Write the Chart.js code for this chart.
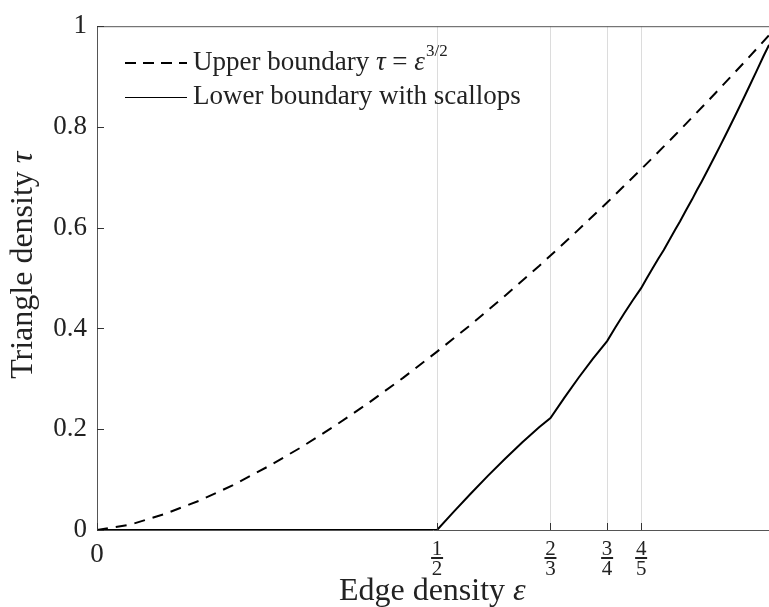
<!DOCTYPE html>
<html>
<head>
<meta charset="utf-8">
<script src="https://cdn.jsdelivr.net/npm/chart.js@4.4.0/dist/chart.umd.min.js"></script>
<style>
  html, body { margin: 0; padding: 0; background: #fff; }
  #wrap { width: 769px; height: 607px; }
</style>
</head>
<body>
<div id="wrap"><canvas id="densityChart" width="769" height="607"></canvas></div>
<script>
// upper boundary (dashed)
const upperX = [0, 0.05, 0.1, 0.15, 0.2, 0.25, 0.3, 0.35, 0.4, 0.45, 0.5, 0.55, 0.6, 0.65, 0.7, 0.75, 0.8, 0.85, 0.9, 0.95, 0.988];
const upperY = [0, 0.011, 0.032, 0.058, 0.089, 0.125, 0.164, 0.207, 0.253, 0.302, 0.354, 0.408, 0.465, 0.524, 0.586, 0.650, 0.716, 0.784, 0.854, 0.926, 0.982];

// lower boundary with scallops (solid)
const lowerX = [0, 0.5, 0.525, 0.55, 0.575, 0.6, 0.625, 0.65, 0.6667, 0.6875, 0.7083, 0.7292, 0.75, 0.7625, 0.775, 0.7875, 0.8, 0.8083, 0.8167, 0.825, 0.8333, 0.85, 0.8571, 0.866, 0.875, 0.8819, 0.8889, 0.9, 0.9091, 0.9167, 0.9231, 0.9286, 0.9333, 0.9375, 0.95, 0.96, 0.97, 0.98, 0.988];
const lowerY = [0, 0, 0.037, 0.073, 0.108, 0.1415, 0.1736, 0.2038, 0.2222, 0.2632, 0.3027, 0.3403, 0.375, 0.4028, 0.4297, 0.4556, 0.48, 0.4998, 0.5191, 0.5378, 0.5556, 0.596, 0.6122, 0.6346, 0.6563, 0.6742, 0.6914, 0.72, 0.7438, 0.7639, 0.7811, 0.7959, 0.8089, 0.8203, 0.855, 0.8832, 0.9118, 0.9408, 0.963];

// ticks
const xTickValues = [0, 1/2, 2/3, 3/4, 4/5];
const xTickLabels = [['0'], ['1', '2'], ['2', '3'], ['3', '4'], ['4', '5']];
const yTickValues = [0, 0.2, 0.4, 0.6, 0.8, 1];

const serif = '"Liberation Serif", "DejaVu Serif", serif';
const axisColor = '#555';

function pts(xs, ys) {
    return xs.map((x, i) => ({ x: x, y: ys[i] }));
}

// draws the things Chart.js has no option for: inward ticks, top border,
// fraction tick labels, axis titles and the legend
const decorations = {
    id: 'decorations',
    afterDraw(chart) {
        const ctx = chart.ctx;
        const area = chart.chartArea;
        const xs = chart.scales.x;
        const ys = chart.scales.y;
        ctx.save();

        // top border
        ctx.strokeStyle = axisColor;
        ctx.lineWidth = 1;
        ctx.beginPath();
        ctx.moveTo(area.left, area.top + 0.5);
        ctx.lineTo(area.right, area.top + 0.5);
        ctx.stroke();

        // inward ticks
        ctx.strokeStyle = '#333';
        ctx.beginPath();
        yTickValues.forEach(v => {
            const py = Math.round(ys.getPixelForValue(v)) + 0.5;
            ctx.moveTo(area.left, py);
            ctx.lineTo(area.left + 7, py);
        });
        xTickValues.forEach(v => {
            const px = Math.round(xs.getPixelForValue(v)) + 0.5;
            ctx.moveTo(px, area.bottom);
            ctx.lineTo(px, area.bottom - 7);
        });
        ctx.stroke();

        // x tick labels (fractions)
        ctx.fillStyle = '#222';
        ctx.textAlign = 'center';
        ctx.textBaseline = 'middle';
        xTickValues.forEach((v, i) => {
            const px = xs.getPixelForValue(v);
            const lab = xTickLabels[i];
            if (lab.length === 1) {
                ctx.font = '27px ' + serif;
                ctx.fillText(lab[0], px, area.bottom + 25);
            } else {
                ctx.font = '21px ' + serif;
                ctx.fillText(lab[0], px, area.bottom + 19);
                ctx.fillText(lab[1], px, area.bottom + 39);
                ctx.fillRect(px - 6, area.bottom + 27, 12, 2);
            }
        });

        // axis titles
        ctx.font = '32px ' + serif;
        const edgeW = ctx.measureText('Edge density ').width;
        const triW = ctx.measureText('Triangle density ').width;
        ctx.fillStyle = '#222';
        ctx.textAlign = 'center';
        ctx.textBaseline = 'middle';
        ctx.fillText('Edge density ', 426, 592);
        ctx.font = 'italic 32px ' + serif;
        ctx.textAlign = 'left';
        ctx.fillText('\u03b5', 426 + edgeW / 2, 592);

        ctx.save();
        ctx.translate(24, 263);
        ctx.rotate(-Math.PI / 2);
        ctx.font = '32px ' + serif;
        ctx.textAlign = 'center';
        ctx.fillText('Triangle density ', -8, 0);
        ctx.font = 'italic 32px ' + serif;
        ctx.textAlign = 'left';
        ctx.fillText('\u03c4', -8 + triW / 2, 0);
        ctx.restore();

        // legend
        const lx0 = 125, lx1 = 187, tx = 193;
        const rows = [63, 97];
        ctx.strokeStyle = '#000';
        ctx.lineWidth = 2;
        ctx.setLineDash([11, 7]);
        ctx.beginPath();
        ctx.moveTo(lx0, rows[0]);
        ctx.lineTo(lx1, rows[0]);
        ctx.stroke();
        ctx.setLineDash([]);
        ctx.lineWidth = 1;
        ctx.beginPath();
        ctx.moveTo(lx0, rows[1] + 0.5);
        ctx.lineTo(lx1, rows[1] + 0.5);
        ctx.stroke();

        ctx.fillStyle = '#222';
        ctx.textBaseline = 'middle';
        ctx.textAlign = 'left';
        let x = tx;
        const put = (txt, font, dy) => {
            ctx.font = font;
            ctx.fillText(txt, x, rows[0] + (dy || 0));
            x += ctx.measureText(txt).width;
        };
        put('Upper boundary ', '27px ' + serif);
        put('\u03c4', 'italic 27px ' + serif);
        put(' = ', '27px ' + serif);
        put('\u03b5', 'italic 27px ' + serif);
        x += 1;
        put('3/2', '17px ' + serif, -11);
        ctx.font = '27px ' + serif;
        ctx.fillText('Lower boundary with scallops', tx, rows[1]);

        ctx.restore();
    }
};

const ctx = document.getElementById('densityChart').getContext('2d');
new Chart(ctx, {
    type: 'line',
    data: {
        datasets: [{
            label: 'Upper boundary',
            data: pts(upperX, upperY),
            borderColor: '#000',
            borderWidth: 2,
            borderDash: [11, 8],
            pointRadius: 0,
            tension: 0,
            fill: false
        }, {
            label: 'Lower boundary with scallops',
            data: pts(lowerX, lowerY),
            borderColor: '#000',
            borderWidth: 2,
            pointRadius: 0,
            tension: 0,
            fill: false
        }]
    },
    options: {
        responsive: false,
        animation: false,
        layout: { padding: { top: 22, right: 0, left: 0, bottom: 0 } },
        plugins: {
            legend: { display: false },
            tooltip: { enabled: false }
        },
        scales: {
            x: {
                type: 'linear',
                min: 0,
                max: 0.988,
                afterBuildTicks: scale => {
                    scale.ticks = xTickValues.map(v => ({ value: v }));
                },
                afterFit: scale => { scale.height = 77; },
                ticks: { display: false },
                grid: {
                    drawTicks: false,
                    color: c => (c.tick && c.tick.value === 0) ? 'rgba(0,0,0,0)' : '#dcdcdc',
                    lineWidth: 1
                },
                border: { display: true, color: axisColor, width: 1 }
            },
            y: {
                min: 0,
                max: 1,
                afterBuildTicks: scale => {
                    scale.ticks = yTickValues.map(v => ({ value: v }));
                },
                afterFit: scale => { scale.width = 97; },
                ticks: {
                    padding: 10,
                    color: '#222',
                    font: { family: serif, size: 27 },
                    callback: v => String(Math.round(v * 10) / 10)
                },
                grid: { drawTicks: false, color: 'rgba(0,0,0,0)' },
                border: { display: true, color: axisColor, width: 1 }
            }
        }
    },
    plugins: [decorations]
});
</script>
</body>
</html>
